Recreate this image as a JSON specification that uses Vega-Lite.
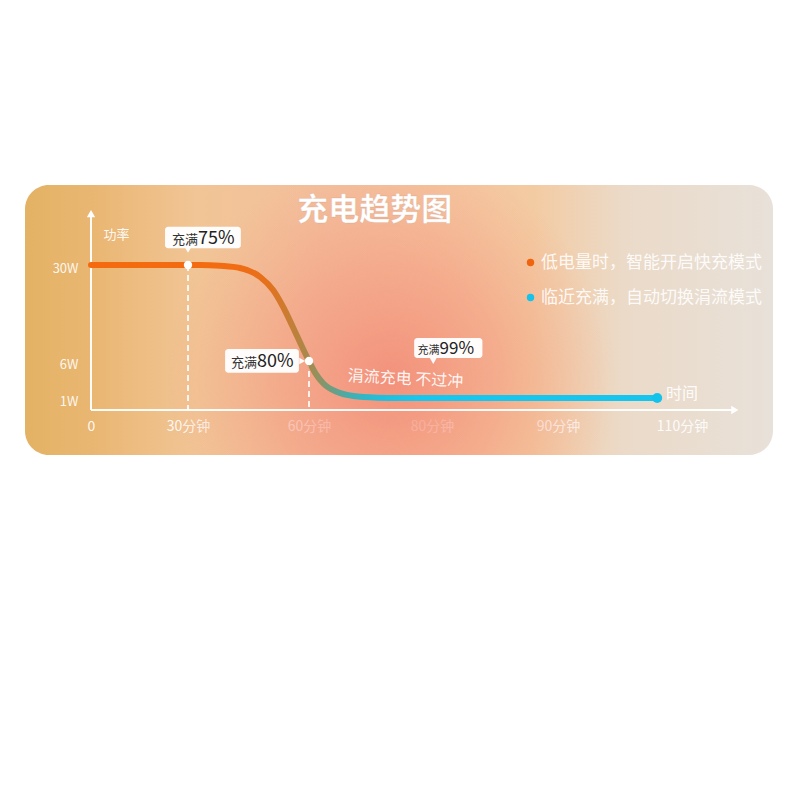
{
  "$schema": "https://vega.github.io/schema/vega-lite/v6.json",
  "width": 748,
  "height": 270,
  "autosize": "none",
  "padding": {"left": 25, "top": 185, "right": 27, "bottom": 345},
  "background": "#ffffff",
  "view": {
    "stroke": null,
    "cornerRadius": 24,
    "fill": {
      "gradient": "linear", "x1": 0, "y1": 0, "x2": 1, "y2": 0,
      "stops": [
        {"offset": 0, "color": "#e4b264"},
        {"offset": 0.1, "color": "#eab774"},
        {"offset": 0.23, "color": "#f1c596"},
        {"offset": 0.4, "color": "#f3bf9d"},
        {"offset": 0.55, "color": "#f5c39e"},
        {"offset": 0.68, "color": "#f3cba2"},
        {"offset": 0.8, "color": "#ebdac8"},
        {"offset": 1, "color": "#e8e1d9"}
      ]
    }
  },
  "config": {
    "font": "Noto Sans CJK SC",
    "axis": {"grid": false, "domain": false, "ticks": false, "tickSize": 0, "labelFlush": false, "labelOverlap": false}
  },
  "datasets": {
    "heading": [{"t": 70.7, "w": 44.6, "text": "充电趋势图"}],
    "curve": [
      {"t": 0, "w": 30}, {"t": 20, "w": 30}, {"t": 33, "w": 30}, {"t": 38, "w": 29.8},
      {"t": 42.9, "w": 29.25}, {"t": 47.9, "w": 27}, {"t": 51.1, "w": 23.75}, {"t": 53.6, "w": 19.5},
      {"t": 56.0, "w": 14.5}, {"t": 58.3, "w": 9.5}, {"t": 60, "w": 6}, {"t": 61.0, "w": 4.4},
      {"t": 62.3, "w": 3.0}, {"t": 64.6, "w": 1.8}, {"t": 67.2, "w": 1.27}, {"t": 71.1, "w": 1.05},
      {"t": 74.9, "w": 1}, {"t": 106, "w": 1}
    ],
    "markers": [{"t": 30, "w": 30, "pct": "75%"}, {"t": 60, "w": 6, "pct": "80%"}],
    "boxes": [
      {"pct": "75%", "t1": 22.9, "t2": 43.1, "w1": 34.6, "w2": 40.4},
      {"pct": "80%", "t1": 39.2, "t2": 57.5, "w1": 4.4, "w2": 9},
      {"pct": "99%", "t1": 77.1, "t2": 84.0, "w1": 6.75, "w2": 11.75}
    ],
    "pointers": [
      {"pct": "75%", "t": 30, "w": 34.1, "dir": "down"},
      {"pct": "80%", "t": 58.3, "w": 6, "dir": "right"},
      {"pct": "99%", "t": 80.1, "w": 6, "dir": "down"}
    ],
    "callouts": [
      {"pct": "75%", "t": 32.5, "w": 37.5},
      {"pct": "80%", "t": 47.1, "w": 6},
      {"pct": "99%", "t": 80.6, "w": 9.25}
    ],
    "notes": [
      {"text": "功率", "t": 7.9, "w": 38.2},
      {"text": "时间", "t": 110, "w": 1.54},
      {"text": "涓流充电 不过冲", "t": 75.7, "w": 3.57}
    ],
    "arrows": [{"t": 0, "w": 44, "dir": "up"}, {"t": 119.1, "w": 0, "dir": "right"}],
    "end": [{"t": 106, "w": 1, "mode": "临近充满，自动切换涓流模式"}]
  },
  "layer": [
    {
      "data": {"values": [{}]},
      "mark": {
        "type": "rect", "cornerRadius": 24,
        "fill": {
          "gradient": "radial", "x1": 0.49, "y1": 0.58, "r1": 0, "x2": 0.49, "y2": 0.58, "r2": 0.3,
          "stops": [
            {"offset": 0, "color": "rgba(243,140,120,0.9)"},
            {"offset": 0.5, "color": "rgba(244,148,124,0.5)"},
            {"offset": 1, "color": "rgba(245,160,130,0)"}
          ]
        }
      },
      "encoding": {}
    },
    {
      "data": {"values": [{}]},
      "mark": {
        "type": "rect", "cornerRadius": 24,
        "fill": {
          "gradient": "radial", "x1": 0.7, "y1": 0.9, "r1": 0, "x2": 0.7, "y2": 0.9, "r2": 0.16,
          "stops": [
            {"offset": 0, "color": "rgba(250,170,110,0.7)"},
            {"offset": 1, "color": "rgba(250,175,120,0)"}
          ]
        }
      },
      "encoding": {}
    },
    {
      "encoding": {
        "x": {
          "field": "t", "type": "quantitative",
          "scale": {"domain": [0, 30, 60, 80, 90, 110, 120], "range": [66, 163, 284, 407, 533, 657, 715], "nice": false, "zero": false},
          "axis": {
            "title": null, "orient": "bottom", "offset": -45,
            "values": [0, 30, 60, 80, 90, 110],
            "labelExpr": "datum.value == 0 ? '0' : datum.value + '分钟'",
            "labelColor": "rgba(255,255,255,0.9)", "labelFontSize": 14, "labelPadding": 9
          }
        },
        "y": {
          "field": "w", "type": "quantitative",
          "scale": {"domain": [0, 1, 6, 30, 45], "range": [225, 213, 176, 80, 25], "nice": false, "zero": false},
          "axis": {
            "title": null, "orient": "left", "offset": -66,
            "values": [1, 6, 30],
            "labelExpr": "datum.value + 'W'",
            "labelColor": "rgba(255,255,255,0.9)", "labelFontSize": 13, "labelPadding": 13, "labelOffset": 3
          }
        }
      },
      "layer": [
        {
          "data": {"name": "heading"},
          "mark": {"type": "text", "align": "center", "baseline": "middle", "fontSize": 31, "fontWeight": "bold", "color": "#ffffff", "stroke": "rgba(170,120,95,0.18)", "strokeWidth": 1},
          "encoding": {"text": {"field": "text"}}
        },
        {
          "data": {"name": "arrows"},
          "mark": {"type": "rule", "color": "rgba(255,255,255,0.95)", "strokeWidth": 2},
          "encoding": {
            "x2": {"datum": 0},
            "y2": {"datum": 0}
          }
        },
        {
          "data": {"name": "arrows"},
          "mark": {"type": "point", "filled": true, "opacity": 1, "color": "#ffffff", "size": 70},
          "encoding": {
            "shape": {"field": "dir", "type": "nominal", "scale": {"domain": ["up", "down", "right"], "range": ["triangle-up", "triangle-down", "triangle-right"]}, "legend": null}
          }
        },
        {
          "data": {"name": "markers"},
          "mark": {"type": "rule", "color": "rgba(255,255,255,0.85)", "strokeWidth": 2, "strokeDash": [6, 4]},
          "encoding": {"y2": {"datum": 0}}
        },
        {
          "data": {"name": "curve"},
          "mark": {
            "type": "line", "interpolate": "monotone", "strokeWidth": 6, "strokeCap": "round",
            "stroke": {
              "gradient": "linear", "x1": 0, "y1": 0, "x2": 1, "y2": 0,
              "stops": [
                {"offset": 0, "color": "#f56a0e"},
                {"offset": 0.255, "color": "#f26c12"},
                {"offset": 0.31, "color": "#e5711c"},
                {"offset": 0.344, "color": "#cc7b30"},
                {"offset": 0.37, "color": "#b58442"},
                {"offset": 0.397, "color": "#978f5a"},
                {"offset": 0.424, "color": "#6f9d80"},
                {"offset": 0.46, "color": "#3fb0b3"},
                {"offset": 0.512, "color": "#22bfdc"},
                {"offset": 0.583, "color": "#18c7ee"},
                {"offset": 1, "color": "#16c5ee"}
              ]
            }
          }
        },
        {
          "data": {"name": "markers"},
          "mark": {"type": "point", "filled": true, "opacity": 1, "color": "#ffffff", "size": 70}
        },
        {
          "data": {"name": "end"},
          "mark": {"type": "point", "filled": true, "opacity": 1, "size": 100},
          "encoding": {
            "color": {
              "field": "mode", "type": "nominal",
              "scale": {"domain": ["低电量时，智能开启快充模式", "临近充满，自动切换涓流模式"], "range": ["#f0640f", "#14c3ec"]},
              "legend": {
                "orient": "none", "legendX": 497, "legendY": 69, "title": null, "padding": 0,
                "symbolType": "circle", "symbolSize": 55, "symbolStrokeWidth": 0, "symbolOpacity": 1,
                "labelFontSize": 17, "labelColor": "rgba(255,255,255,0.9)", "labelLimit": 400,
                "labelOffset": 2, "rowPadding": 17
              }
            }
          }
        },
        {
          "data": {"name": "boxes"},
          "mark": {"type": "rect", "color": "#ffffff", "opacity": 0.96, "cornerRadius": 3},
          "encoding": {
            "x": {"field": "t1", "type": "quantitative"},
            "x2": {"field": "t2"},
            "y": {"field": "w1", "type": "quantitative"},
            "y2": {"field": "w2"}
          }
        },
        {
          "data": {"name": "pointers"},
          "mark": {"type": "point", "filled": true, "opacity": 0.96, "color": "#ffffff", "size": 45},
          "encoding": {
            "shape": {"field": "dir", "type": "nominal", "scale": {"domain": ["up", "down", "right"], "range": ["triangle-up", "triangle-down", "triangle-right"]}, "legend": null}
          }
        },
        {
          "data": {"name": "callouts"},
          "mark": {"type": "text", "align": "right", "baseline": "alphabetic", "dy": 6, "color": "#333333"},
          "encoding": {
            "text": {"value": "充满"},
            "size": {"condition": {"test": "datum.pct === '99%'", "value": 11}, "value": 13}
          }
        },
        {
          "data": {"name": "callouts"},
          "mark": {"type": "text", "align": "left", "baseline": "alphabetic", "dy": 6, "color": "#222222"},
          "encoding": {
            "text": {"field": "pct"},
            "size": {"condition": {"test": "datum.pct === '99%'", "value": 17}, "value": 18}
          }
        },
        {
          "data": {"name": "notes"},
          "mark": {"type": "text", "align": "center", "baseline": "middle", "color": "rgba(255,255,255,0.92)"},
          "encoding": {
            "text": {"field": "text"},
            "size": {"condition": {"test": "datum.text === '功率'", "value": 13}, "value": 16},
            "angle": {"condition": {"test": "datum.text === '涓流充电 不过冲'", "value": 3}, "value": 0}
          }
        }
      ]
    }
  ]
}
